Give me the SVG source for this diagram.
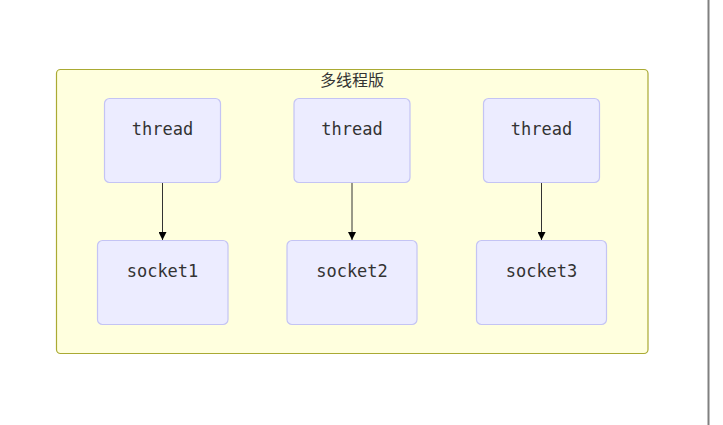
<svg xmlns="http://www.w3.org/2000/svg" width="723" height="425" viewBox="0 0 723 425">
<defs>
<marker id="arr" viewBox="0 0 10 10" refX="10" refY="5" markerWidth="8" markerHeight="8" markerUnits="userSpaceOnUse" orient="auto">
<path d="M0,0 L10,5 L0,10 z" fill="#000"/>
</marker>
<style>
.node rect{fill:#ECECFF;stroke:#c4c4f4;stroke-width:1.2}
.node text{font-family:"DejaVu Sans Mono","Liberation Mono",monospace;font-size:17px;fill:#333;text-anchor:middle}
.edge{stroke:#333;stroke-width:1;fill:none;marker-end:url(#arr)}
.cluster rect{fill:#ffffde;stroke:#aaaa33;stroke-width:1.2}
.cluster text{font-family:"Noto Sans CJK SC","DejaVu Sans",sans-serif;font-size:16px;fill:#333;text-anchor:middle}
</style>
</defs>
<rect width="723" height="425" fill="#fff"/>
<line x1="708.5" y1="0" x2="708.5" y2="425" stroke="#808080" stroke-width="2"/>
<g id="cluster" class="cluster">
<rect x="56.5" y="69.5" width="591.5" height="284" rx="4"/>
<text x="352" y="86">多线程版</text>
</g>
<g id="connectors">
<path class="edge" d="M162.5,182.5 L162.5,240"/>
<path class="edge" d="M352,182.5 L352,240"/>
<path class="edge" d="M541.5,182.5 L541.5,240"/>
</g>
<g id="thread1" class="node"><rect x="104.5" y="98.5" width="116" height="84" rx="5"/><text x="162.5" y="135">thread</text></g>
<g id="thread2" class="node"><rect x="294" y="98.5" width="116" height="84" rx="5"/><text x="352" y="135">thread</text></g>
<g id="thread3" class="node"><rect x="483.5" y="98.5" width="116" height="84" rx="5"/><text x="541.5" y="135">thread</text></g>
<g id="socket1" class="node"><rect x="97.5" y="240.5" width="130.5" height="84" rx="5"/><text x="162.5" y="277">socket1</text></g>
<g id="socket2" class="node"><rect x="287" y="240.5" width="130" height="84" rx="5"/><text x="352" y="277">socket2</text></g>
<g id="socket3" class="node"><rect x="476.5" y="240.5" width="130" height="84" rx="5"/><text x="541.5" y="277">socket3</text></g>
</svg>
